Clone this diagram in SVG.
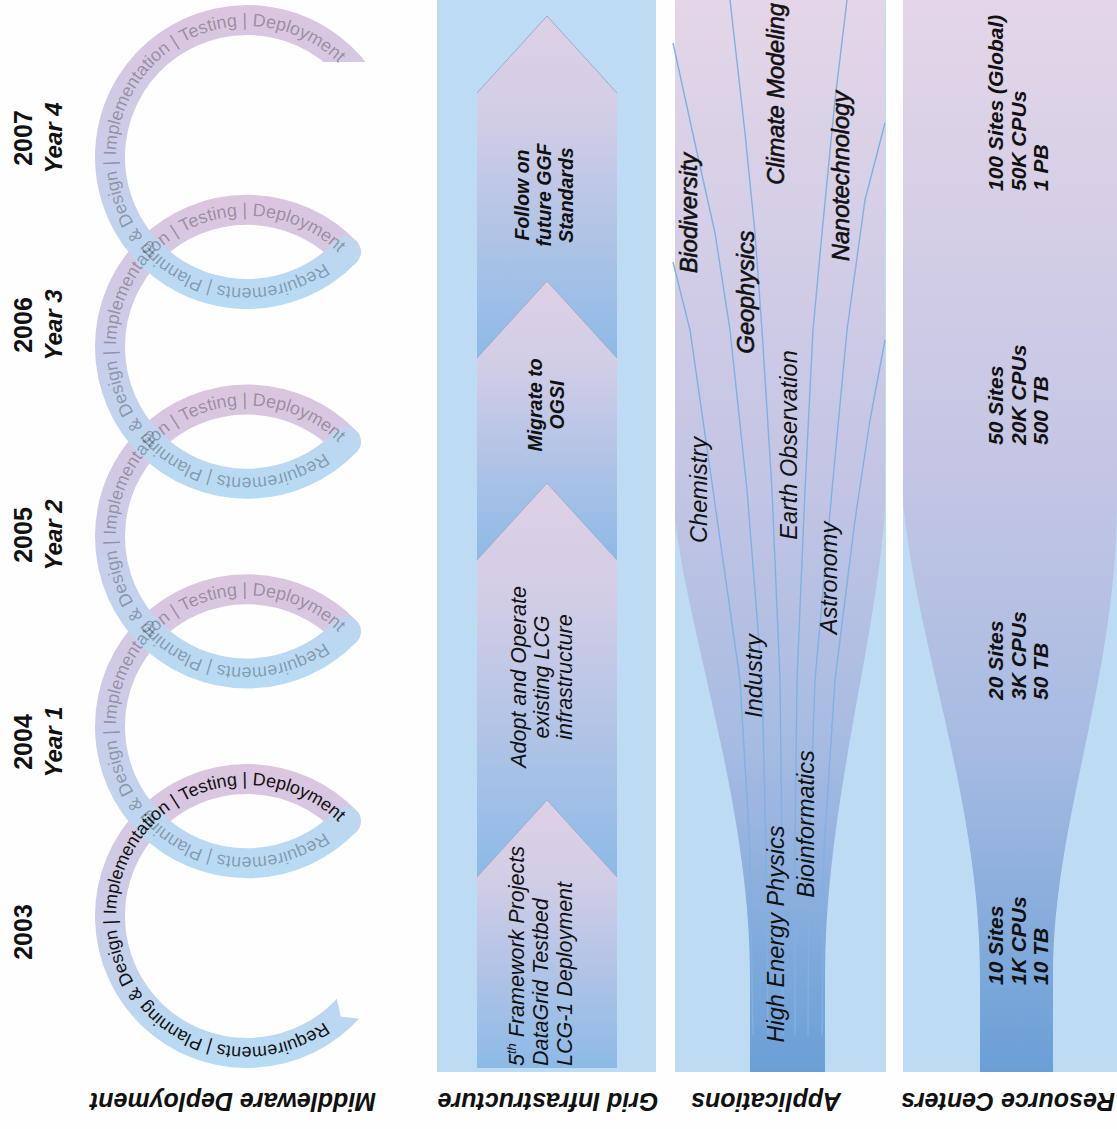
<svg xmlns="http://www.w3.org/2000/svg" width="1117" height="1129" viewBox="0 0 1117 1129">
<defs>
<style>
text { font-family: "Liberation Sans", Arial, sans-serif; }
.yr { font-size:25px; font-weight:bold; fill:#111; text-anchor:middle; }
.yl { font-size:24px; font-weight:bold; font-style:italic; fill:#111; text-anchor:middle; }
.band { fill:none; stroke-width:30; stroke-linecap:round; }
.lt { font-size:18px; }
.on { fill:#111; }
.off { fill:#000; fill-opacity:0.3; }
.col { font-size:25px; font-weight:bold; font-style:italic; fill:#111; text-anchor:middle; }
.panel { fill:#bddbf2; }
.gb { font-size:19.5px; font-weight:bold; font-style:italic; fill:#111; text-anchor:middle; }
.gr { font-size:21.5px; font-style:italic; fill:#111; }
.app { font-size:23.5px; font-style:italic; fill:#111; text-anchor:middle; }
.heavy { stroke:#111; stroke-width:0.6; }
.res { font-size:21px; font-weight:bold; font-style:italic; fill:#111; }
.fan { fill:none; stroke:#7fb1e2; stroke-width:1.4; }
.chev { fill:none; stroke:#a3abc8; stroke-width:1; }
</style>
<linearGradient id="g0" gradientUnits="userSpaceOnUse" x1="0" y1="764" x2="0" y2="1068"><stop offset="0" stop-color="#dcc5df"/><stop offset="0.5" stop-color="#cacde9"/><stop offset="1" stop-color="#b6dcf4"/></linearGradient>
<linearGradient id="g1" gradientUnits="userSpaceOnUse" x1="0" y1="574.25" x2="0" y2="878.25" href="#g0"/>
<linearGradient id="g2" gradientUnits="userSpaceOnUse" x1="0" y1="384.5" x2="0" y2="688.5" href="#g0"/>
<linearGradient id="g3" gradientUnits="userSpaceOnUse" x1="0" y1="194.75" x2="0" y2="498.75" href="#g0"/>
<linearGradient id="g4" gradientUnits="userSpaceOnUse" x1="0" y1="5" x2="0" y2="309" href="#g0"/>
<linearGradient id="ag" x1="0" y1="0" x2="0" y2="1"><stop offset="0" stop-color="#ddd0e6"/><stop offset="0.3" stop-color="#d2cde6"/><stop offset="1" stop-color="#8cbae6"/></linearGradient>
<linearGradient id="fg" gradientUnits="userSpaceOnUse" x1="0" y1="0" x2="0" y2="1072"><stop offset="0" stop-color="#e4d6e8"/><stop offset="0.45" stop-color="#c3c5e4"/><stop offset="0.7" stop-color="#a6bbe2"/><stop offset="1" stop-color="#6a9fd6"/></linearGradient>
<clipPath id="c4"><rect x="0" y="0" width="1117" height="62"/><rect x="0" y="0" width="300" height="1129"/><rect x="0" y="130" width="1117" height="999"/></clipPath>
<path id="tp0" d="M 338 1010.23 A 131 131 0 1 1 365.73 860.64"/>
<path id="tp1" d="M 338 820.48 A 131 131 0 1 1 365.73 670.89"/>
<path id="tp2" d="M 338 630.73 A 131 131 0 1 1 365.73 481.14"/>
<path id="tp3" d="M 338 440.98 A 131 131 0 1 1 365.73 291.39"/>
<path id="tp4" d="M 338 251.23 A 131 131 0 1 1 365.73 101.64"/>
</defs>
<rect x="0" y="0" width="1117" height="1129" fill="#fefefe"/>

<g id="middleware">
  <g id="loops">
    <path class="band" stroke="url(#g0)" d="M 348.81 1007.67 A 137 137 0 1 1 345.83 821.12"/>
    <path class="band" stroke="url(#g1)" d="M 345.83 821.13 A 137 137 0 1 1 345.83 631.37"/>
    <path class="band" stroke="url(#g2)" d="M 345.83 631.38 A 137 137 0 1 1 345.83 441.62"/>
    <path class="band" stroke="url(#g3)" d="M 345.83 441.63 A 137 137 0 1 1 345.83 251.87"/>
    <path class="band" stroke="url(#g4)" clip-path="url(#c4)" d="M 345.83 251.88 A 137 137 0 1 1 365.65 88.5"/>
    <polygon points="336.2,996.4 340.8,1016.6 361.4,1019 374.8,1004.1 349.6,981.5" fill="#fefefe"/>
  </g>
  <g id="loop-texts" class="lt">
    <text class="off"><textPath href="#tp4" startOffset="18">Requirements | Planning &amp; Design | Implementation | Testing | Deployment</textPath></text>
    <text class="off"><textPath href="#tp3" startOffset="18">Requirements | Planning &amp; Design | Implementation | Testing | Deployment</textPath></text>
    <text class="off"><textPath href="#tp2" startOffset="18">Requirements | Planning &amp; Design | Implementation | Testing | Deployment</textPath></text>
    <text class="off"><textPath href="#tp1" startOffset="18">Requirements | Planning &amp; Design | Implementation | Testing | Deployment</textPath></text>
    <text class="on"><textPath href="#tp0" startOffset="18">Requirements | Planning &amp; Design | Implementation | Testing | Deployment</textPath></text>
  </g>
  <g id="years">
    <text class="yr" transform="translate(32,932) rotate(-90)">2003</text>
    <text class="yr" transform="translate(32,742) rotate(-90)">2004</text>
    <text class="yl" transform="translate(62,742) rotate(-90)">Year 1</text>
    <text class="yr" transform="translate(32,535) rotate(-90)">2005</text>
    <text class="yl" transform="translate(62,535) rotate(-90)">Year 2</text>
    <text class="yr" transform="translate(32,325) rotate(-90)">2006</text>
    <text class="yl" transform="translate(62,325) rotate(-90)">Year 3</text>
    <text class="yr" transform="translate(32,138) rotate(-90)">2007</text>
    <text class="yl" transform="translate(62,138) rotate(-90)">Year 4</text>
  </g>
  <text class="col" transform="translate(233,1102) rotate(180)" y="9">Middleware Deployment</text>
</g>

<g id="grid">
  <rect class="panel" x="437" y="0" width="219" height="1072"/>
  <polygon id="a1" fill="url(#ag)" points="477,1068 617,1068 617,877 547,800 477,877"/>
  <polygon id="a2" fill="url(#ag)" points="477,877 547,800 617,877 617,560 547,483 477,560"/>
  <polygon id="a3" fill="url(#ag)" points="477,560 547,483 617,560 617,358 547,281 477,358"/>
  <polygon id="a4" fill="url(#ag)" points="477,358 547,281 617,358 617,93 547,16 477,93"/>
  <polyline class="chev" points="477,877 547,800 617,877"/>
  <polyline class="chev" points="477,560 547,483 617,560"/>
  <polyline class="chev" points="477,358 547,281 617,358"/>
  <polyline class="chev" points="477,93 547,16 617,93"/>
  <text class="gb" transform="translate(529,195) rotate(-90)"><tspan x="0" y="0">Follow on</tspan><tspan x="0" dy="22">future GGF</tspan><tspan x="0" dy="22">Standards</tspan></text>
  <text class="gb" transform="translate(542,405) rotate(-90)"><tspan x="0" y="0">Migrate to</tspan><tspan x="0" dy="22">OGSI</tspan></text>
  <text class="gr" text-anchor="middle" transform="translate(526,677) rotate(-90)"><tspan x="0" y="0">Adopt and Operate</tspan><tspan x="0" dy="23">existing LCG</tspan><tspan x="0" dy="23">infrastructure</tspan></text>
  <text class="gr" transform="translate(524,1066) rotate(-90)"><tspan x="0" y="0">5</tspan><tspan dy="-8" font-size="13">th</tspan><tspan dy="8"> Framework Projects</tspan><tspan x="0" dy="24">DataGrid Testbed</tspan><tspan x="0" dy="24">LCG-1 Deployment</tspan></text>
  <text class="col" transform="translate(548,1102) rotate(180)" y="9">Grid Infrastructure</text>
</g>

<g id="applications">
  <rect class="panel" x="675" y="0" width="211" height="1072"/>
  <path fill="url(#fg)" d="M 750 1072 L 750 975 C 750 810 690 640 675 520 L 675 0 L 885 0 L 885 510 C 875 650 825 810 825 975 L 825 1072 Z"/>
  <g id="fan-lines">
    <polyline class="fan" points="673,262 690,330 713,490 740,680 750,850 753,1035"/>
    <polyline class="fan" points="673,43 698,157 715,233 730,330 747,490 762,680 766,850 768,1035"/>
    <polyline class="fan" points="730,0 745,133 755,233 762,330 772,490 780,680 782,850 783,1035"/>
    <polyline class="fan" points="847,0 835,100 822,233 813,330 805,490 797,680 795,850 795,1035"/>
    <polyline class="fan" points="885,123 865,200 847,330 832,490 815,680 809,850 808,1035"/>
    <polyline class="fan" points="885,340 870,420 855,520 835,680 824,850 822,1035"/>
  </g>
  <text class="app heavy" transform="translate(784,94) rotate(-90)">Climate Modeling</text>
  <text class="app heavy" transform="translate(697,213) rotate(-90)">Biodiversity</text>
  <text class="app heavy" transform="translate(754,292) rotate(-90)">Geophysics</text>
  <text class="app heavy" transform="translate(849,176) rotate(-90)">Nanotechnology</text>
  <text class="app" transform="translate(707,490) rotate(-90)">Chemistry</text>
  <text class="app" transform="translate(797,445) rotate(-90)">Earth Observation</text>
  <text class="app" transform="translate(837,578) rotate(-90)">Astronomy</text>
  <text class="app" transform="translate(762,676) rotate(-90)">Industry</text>
  <text class="app" transform="translate(784,934) rotate(-90)">High Energy Physics</text>
  <text class="app" transform="translate(814,824) rotate(-90)">Bioinformatics</text>
  <text class="col" transform="translate(766,1102) rotate(180)" y="9">Applications</text>
</g>

<g id="resources">
  <rect class="panel" x="903" y="0" width="214" height="1072"/>
  <path fill="url(#fg)" d="M 980 1072 L 980 975 C 980 800 915 640 903 500 L 903 0 L 1117 0 L 1117 500 C 1117 680 1053 820 1053 975 L 1053 1072 Z"/>
  <text class="res" transform="translate(1003,191) rotate(-90)"><tspan x="0" y="0">100 Sites (Global)</tspan><tspan x="0" dy="22.5">50K CPUs</tspan><tspan x="0" dy="22.5">1 PB</tspan></text>
  <text class="res" transform="translate(1003,445) rotate(-90)"><tspan x="0" y="0">50 Sites</tspan><tspan x="0" dy="22.5">20K CPUs</tspan><tspan x="0" dy="22.5">500 TB</tspan></text>
  <text class="res" transform="translate(1003,700) rotate(-90)"><tspan x="0" y="0">20 Sites</tspan><tspan x="0" dy="22.5">3K CPUs</tspan><tspan x="0" dy="22.5">50 TB</tspan></text>
  <text class="res" transform="translate(1003,985) rotate(-90)"><tspan x="0" y="0">10 Sites</tspan><tspan x="0" dy="22.5">1K CPUs</tspan><tspan x="0" dy="22.5">10 TB</tspan></text>
  <text class="col" transform="translate(1008,1102) rotate(180)" y="9">Resource Centers</text>
</g>
</svg>
